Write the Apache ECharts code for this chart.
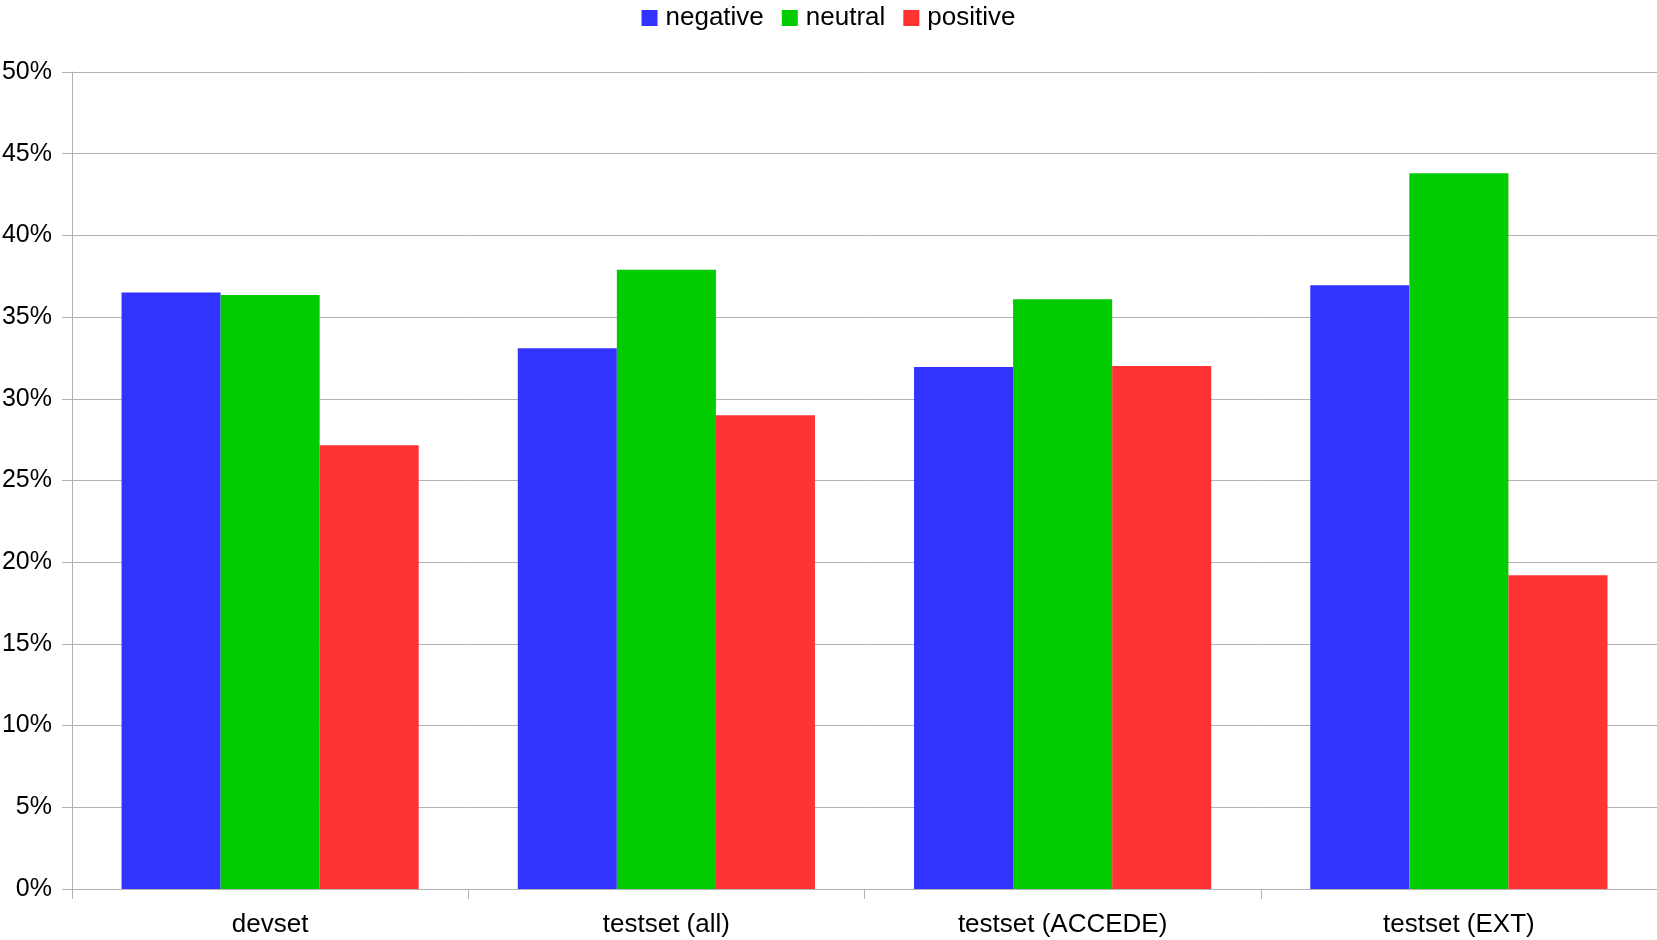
<!DOCTYPE html>
<html>
<head>
<meta charset="utf-8">
<script src="https://cdn.jsdelivr.net/npm/echarts@6/dist/echarts.min.js"></script>
<style>
  html, body { margin: 0; padding: 0; background: #fff; }
  #chart { width: 1657px; height: 940px; }
</style>
</head>
<body>
<div id="chart"></div>
<script>
// Sentiment class distribution per data split (percent)
const categories = ['devset', 'testset (all)', 'testset (ACCEDE)', 'testset (EXT)'];
const seriesNames = ['negative', 'neutral', 'positive'];
const negative = [36.5, 33.1, 31.95, 36.95];
const neutral = [36.35, 37.9, 36.1, 43.8];
const positive = [27.15, 29.0, 32.0, 19.2];
const colors = ['#3333ff', '#00cc00', '#ff3333'];

const font = '"Liberation Sans", Arial, sans-serif';
const chart = echarts.init(document.getElementById('chart'), null, { renderer: 'canvas' });

const values = [negative, neutral, positive];
chart.setOption({
  animation: false,
  backgroundColor: '#ffffff',
  textStyle: { fontFamily: font },
  legend: {
    top: 0,
    left: 'center',
    itemWidth: 16,
    itemHeight: 16,
    itemGap: 18,
    icon: 'rect',
    textStyle: { fontFamily: font, fontSize: 26, color: '#000', padding: [0, 0, 0, 3] },
    data: seriesNames
  },
  grid: { left: 72, right: 0, top: 72, bottom: 51, containLabel: false, outerBoundsMode: 'none' },
  xAxis: {
    type: 'category',
    data: categories,
    axisLine: { lineStyle: { color: '#b3b3b3', width: 1 } },
    axisTick: { show: true, length: 10, alignWithLabel: false, lineStyle: { color: '#b3b3b3' } },
    axisLabel: { fontFamily: font, fontSize: 26, color: '#000', margin: 23 }
  },
  yAxis: {
    type: 'value',
    min: 0,
    max: 50,
    interval: 5,
    axisLine: { show: true, lineStyle: { color: '#b3b3b3', width: 1 } },
    axisTick: { show: true, length: 10, lineStyle: { color: '#b3b3b3' } },
    splitLine: { lineStyle: { color: '#b3b3b3', width: 1 } },
    axisLabel: { fontFamily: font, fontSize: 25, color: '#000', margin: 20, formatter: '{value}%' }
  },
  series: seriesNames.map((name, i) => ({
    name: name,
    type: 'bar',
    data: values[i],
    barGap: '0%',
    barCategoryGap: '25%',
    itemStyle: { color: colors[i] }
  }))
});
</script>
</body>
</html>
